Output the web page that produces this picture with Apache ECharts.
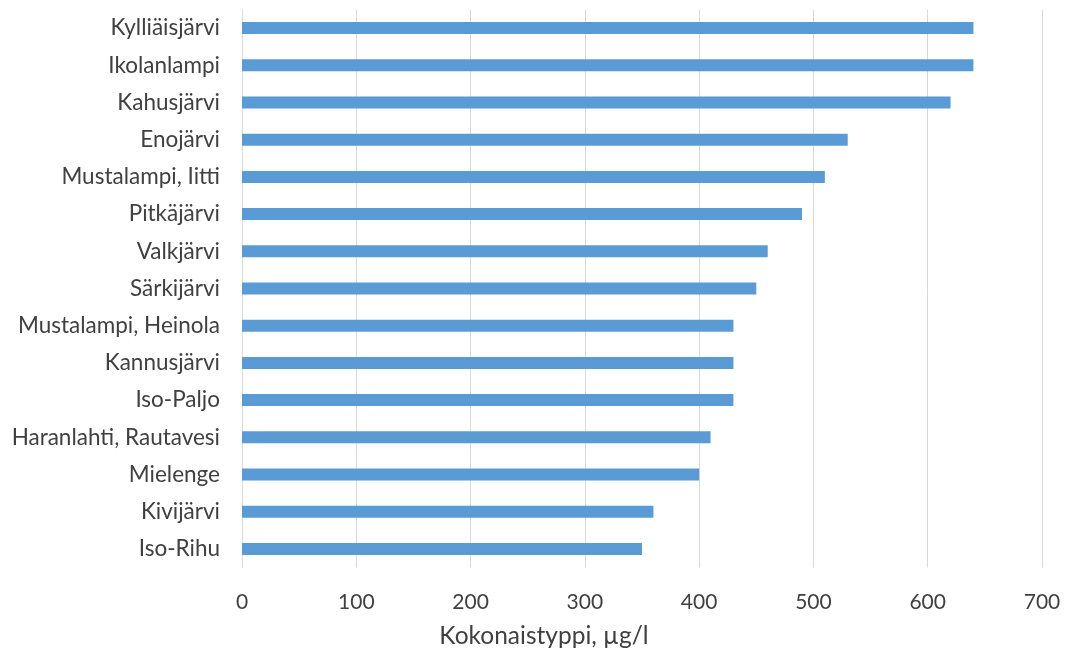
<!DOCTYPE html>
<html>
<head>
<meta charset="utf-8">
<script src="https://cdn.jsdelivr.net/npm/echarts@6/dist/echarts.min.js"></script>
<style>html,body{margin:0;padding:0;background:#fff}#c{width:1066px;height:657px}</style>
</head>
<body>
<div id="c"></div>
<script>
var categories = ["Kylliäisjärvi","Ikolanlampi","Kahusjärvi","Enojärvi","Mustalampi, Iitti","Pitkäjärvi","Valkjärvi","Särkijärvi","Mustalampi, Heinola","Kannusjärvi","Iso-Paljo","Haranlahti, Rautavesi","Mielenge","Kivijärvi","Iso-Rihu"];
var values = [640,640,620,530,510,490,460,450,430,430,430,410,400,360,350];
var axisTitle = "Kokonaistyppi, µg/l";
var xMin = 0, xMax = 700, xStep = 100;

var font = "Lato";
var chart = echarts.init(document.getElementById('c'), null, {renderer:'canvas'});
chart.setOption({
  animation:false,
  grid:{left:242,right:24,top:9.5,bottom:89.5,containLabel:false},
  xAxis:{type:'value',min:xMin,max:xMax,interval:xStep,
    axisLine:{show:false},axisTick:{show:false},
    axisLabel:{color:'#404040',fontFamily:font,fontSize:21,margin:24},
    splitLine:{lineStyle:{color:'#D9D9D9',width:1}}},
  yAxis:{type:'category',data:categories,inverse:true,
    axisLine:{show:true,lineStyle:{color:'#D9D9D9'}},axisTick:{show:false},
    axisLabel:{color:'#404040',fontFamily:font,fontSize:22.5,margin:22}},
  series:[{type:'bar',data:values,barWidth:12,itemStyle:{color:'#5B9BD5'}}],
  graphic:[{type:'text',x:544,y:636,style:{text:axisTitle,fill:'#404040',font:'24.5px Lato',textAlign:'center',textVerticalAlign:'middle'}}]
});
</script>
</body>
</html>
